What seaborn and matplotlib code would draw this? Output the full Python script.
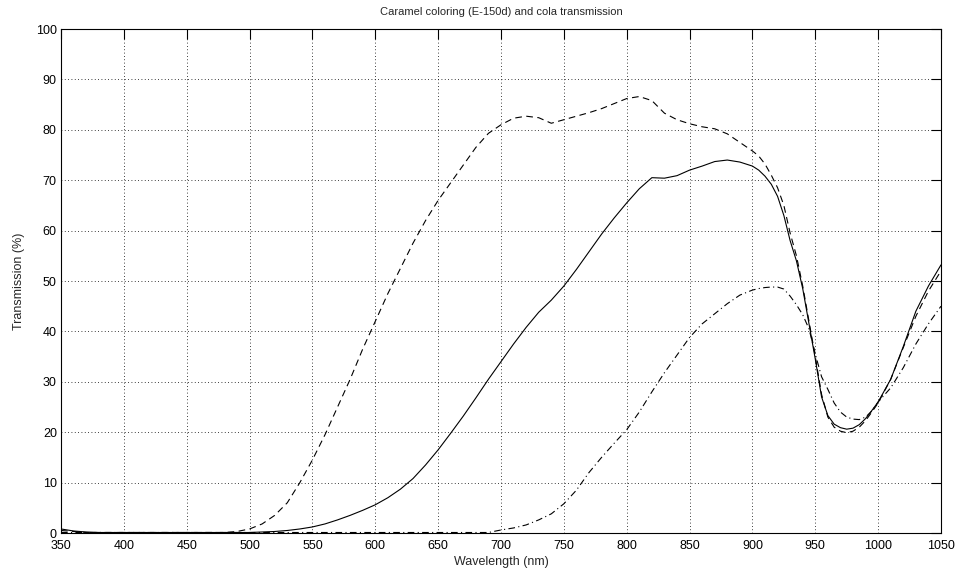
import numpy as np
import pandas as pd
import matplotlib
matplotlib.use("Agg")
import matplotlib.pyplot as plt
import seaborn as sns

wavelength = list(range(350, 901, 10)) + list(range(905, 996, 5)) + list(range(1000, 1051, 10))

cola_solid = [0.8, 0.4, 0.2, 0.1, 0.1, 0.1, 0.1, 0.1, 0.1, 0.1, 0.1, 0.1, 0.1, 0.1, 0.1, 0.1,
              0.2, 0.3, 0.5, 0.8, 1.2, 1.8, 2.6, 3.5, 4.5, 5.6, 7.0, 8.7, 10.8, 13.5, 16.5,
              19.8, 23.2, 26.8, 30.5, 34.0, 37.5, 40.8, 43.8, 46.2, 49.0, 52.3, 55.8, 59.3,
              62.5, 65.5, 68.3, 70.5, 70.4, 70.9, 72.0, 72.8, 73.7, 74.0, 73.6, 72.8,
              72.0, 70.8, 69.2, 66.8, 63.0, 58.0, 54.0, 48.5, 41.5, 34.5, 27.0, 23.3, 21.6,
              20.9, 20.6, 20.8, 21.5, 22.7, 24.3,
              26.0, 30.5, 37.0, 44.0, 49.0, 53.2]

caramel_dashed = [0.5, 0.3, 0.1, 0.1, 0.1, 0.1, 0.1, 0.1, 0.1, 0.1, 0.1, 0.1, 0.1, 0.1, 0.3,
                  0.8, 1.8, 3.5, 6.0, 10.0, 14.5, 19.5, 25.0, 30.5, 36.5, 42.0, 47.5, 52.5,
                  57.5, 62.0, 66.0, 69.5, 73.0, 76.5, 79.3, 81.0, 82.3, 82.7, 82.4, 81.3,
                  82.0, 82.7, 83.4, 84.2, 85.2, 86.2, 86.6, 85.8, 83.3, 82.0, 81.2, 80.6,
                  80.2, 79.2, 77.5, 75.8,
                  74.8, 73.2, 71.0, 68.5, 65.0, 59.5, 55.0, 49.0, 42.0, 35.0, 27.5, 23.0,
                  21.0, 20.2, 19.9, 20.2, 21.0, 22.3, 24.0,
                  25.8, 30.5, 36.8, 43.0, 48.0, 52.0]

dashdot = [0.1] * 35 + [0.6, 1.0, 1.6, 2.6, 3.8, 5.8, 8.5, 12.0, 15.0, 17.8, 20.5, 24.0,
                        28.0, 31.8, 35.3, 38.8, 41.5, 43.5, 45.5, 47.2, 48.2,
                        48.5, 48.7, 48.8, 48.8, 48.4, 47.0, 45.3, 43.3, 40.5, 35.5, 31.0,
                        28.5, 25.8, 24.0, 23.0, 22.6, 22.5, 23.0, 24.2,
                        26.0, 28.8, 32.8, 37.5, 41.5, 45.0]

title = "Caramel coloring (E-150d) and cola transmission"
xlabel = "Wavelength (nm)"
ylabel = "Transmission (%)"
xticks = list(range(350, 1051, 50))
yticks = list(range(0, 101, 10))

sns.set_style("white")
plt.rcParams['font.family'] = ['Liberation Sans', 'DejaVu Sans']
plt.rcParams['font.size'] = 8

fig = plt.figure(figsize=(9.58, 5.79), dpi=100)
ax = fig.add_axes([61/958, 1 - 533/579, 880/958, 504/579])

df = pd.DataFrame({"wl": wavelength, "solid": cola_solid, "dashed": caramel_dashed, "dashdot": dashdot})
sns.lineplot(data=df, x="wl", y="dashed", ax=ax, color="black", linewidth=0.8,
             linestyle=(0, (6, 4)), estimator=None, sort=False)
sns.lineplot(data=df, x="wl", y="solid", ax=ax, color="black", linewidth=0.8,
             linestyle="-", estimator=None, sort=False)
sns.lineplot(data=df, x="wl", y="dashdot", ax=ax, color="black", linewidth=0.8,
             linestyle=(0, (6, 3, 1, 3)), estimator=None, sort=False)

ax.set_xlim(350, 1050)
ax.set_ylim(0, 100)
ax.set_xticks(xticks)
ax.set_yticks(yticks)
ax.grid(True, color="black", linestyle=(0, (1, 3)), linewidth=0.6)
ax.tick_params(direction="in", length=7, width=0.8, top=True, right=True,
               labelsize=9, colors="black")
ax.tick_params(axis="x", pad=5)
ax.tick_params(axis="y", pad=3)
for s in ax.spines.values():
    s.set_color("black")
    s.set_linewidth(0.8)
    s.set_visible(True)
ax.set_title(title, fontsize=8, pad=10)
ax.set_xlabel(xlabel, fontsize=9, labelpad=3)
ax.set_ylabel(ylabel, fontsize=9, labelpad=8)
ax.set_axisbelow(False)

fig.savefig("out.png", dpi=100, facecolor="white")
